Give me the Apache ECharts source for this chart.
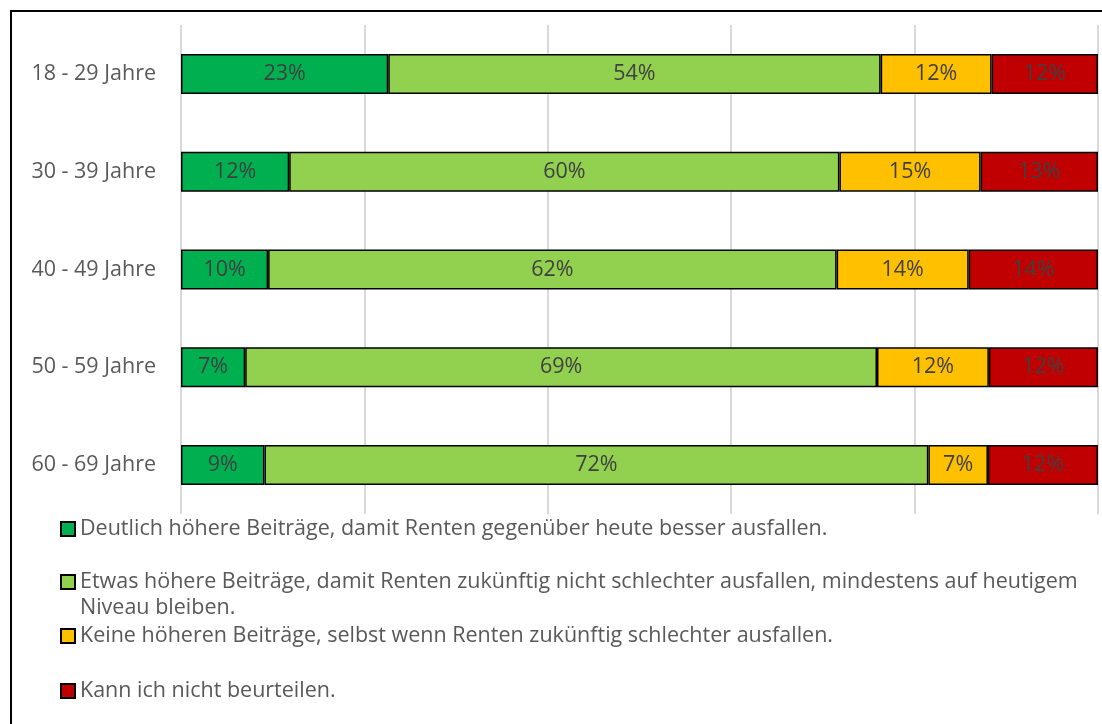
<!DOCTYPE html>
<html>
<head>
<meta charset="utf-8">
<script src="https://cdn.jsdelivr.net/npm/echarts@6/dist/echarts.min.js"></script>
<style>
  html, body { margin: 0; padding: 0; overflow: hidden; background: #fff; }
  #frame { position: absolute; left: 10px; top: 10px; width: 1200px; height: 800px; border: 2px solid #000; }
  #r-canvas { position: absolute; left: 0; top: 0; width: 1102px; height: 724px; }
</style>
</head>
<body>
<div id="frame"></div>
<div id="r-canvas"></div>
<script>
var categories = ['18 - 29 Jahre', '30 - 39 Jahre', '40 - 49 Jahre', '50 - 59 Jahre', '60 - 69 Jahre']
var seriesNames = [
  'Deutlich höhere Beiträge, damit Renten gegenüber heute besser ausfallen.',
  'Etwas höhere Beiträge, damit Renten zukünftig nicht schlechter ausfallen, mindestens auf heutigem\nNiveau bleiben.',
  'Keine höheren Beiträge, selbst wenn Renten zukünftig schlechter ausfallen.',
  'Kann ich nicht beurteilen.'
]
var deutlich = [22.6, 11.8, 9.5, 7.0, 9.1]
var etwas = [53.7, 60.0, 62.0, 68.9, 72.4]
var keine = [12.1, 15.4, 14.4, 12.2, 6.5]
var kann = [11.6, 12.8, 14.1, 11.9, 12.0]
var colors = ['#00B050', '#92D050', '#FFC000', '#C00000']

var FONT = 'Open Sans'
var FS = 21.5
var myChart = echarts.init(document.getElementById('r-canvas'), null, {renderer: 'canvas'})

var values = [deutlich, etwas, keine, kann]
var legendTops = [516, 543, 623, 678]   // je Legende eine eigene Zeile

var series = values.map(function (v, i) {
  return {
    name: seriesNames[i],
    type: 'bar',
    stack: 'total',
    barWidth: 40,
    data: v,
    itemStyle: {color: colors[i], borderColor: '#000', borderWidth: 1.5},
    label: {
      show: true,
      position: 'inside',
      color: '#404040',
      fontFamily: FONT,
      fontSize: FS,
      formatter: function (p) { return Math.round(p.value) + '%' }
    }
  }
})

var legends = seriesNames.map(function (n, i) {
  return {
    data: [{name: n, icon: 'rect'}],
    left: 60,
    top: legendTops[i],
    padding: 0,
    itemWidth: 14,
    itemHeight: 14,
    selectedMode: false,
    formatter: function (name) {
      // mehrzeiliger Eintrag: Leerzeile oben, damit die erste Zeile neben dem Symbol steht
      return name.indexOf('\n') >= 0 ? '\n' + name : name
    },
    textStyle: {
      color: '#595959',
      fontFamily: FONT,
      fontSize: FS,
      lineHeight: 26
    }
  }
})

var option = {
  animation: false,
  color: colors,
  grid: {left: 181, right: 4, top: 25, bottom: 210, containLabel: false},
  legend: legends,
  xAxis: {
    type: 'value',
    min: 0,
    max: 100,
    interval: 20,
    axisLabel: {show: false},
    axisLine: {show: false},
    axisTick: {show: false},
    splitLine: {lineStyle: {color: '#D9D9D9', width: 2}}
  },
  yAxis: {
    type: 'category',
    inverse: true,
    data: categories,
    axisLine: {show: false},
    axisTick: {show: false},
    axisLabel: {color: '#595959', fontFamily: FONT, fontSize: FS, margin: 25}
  },
  series: series
}

myChart.setOption(option)
</script>
</body>
</html>
